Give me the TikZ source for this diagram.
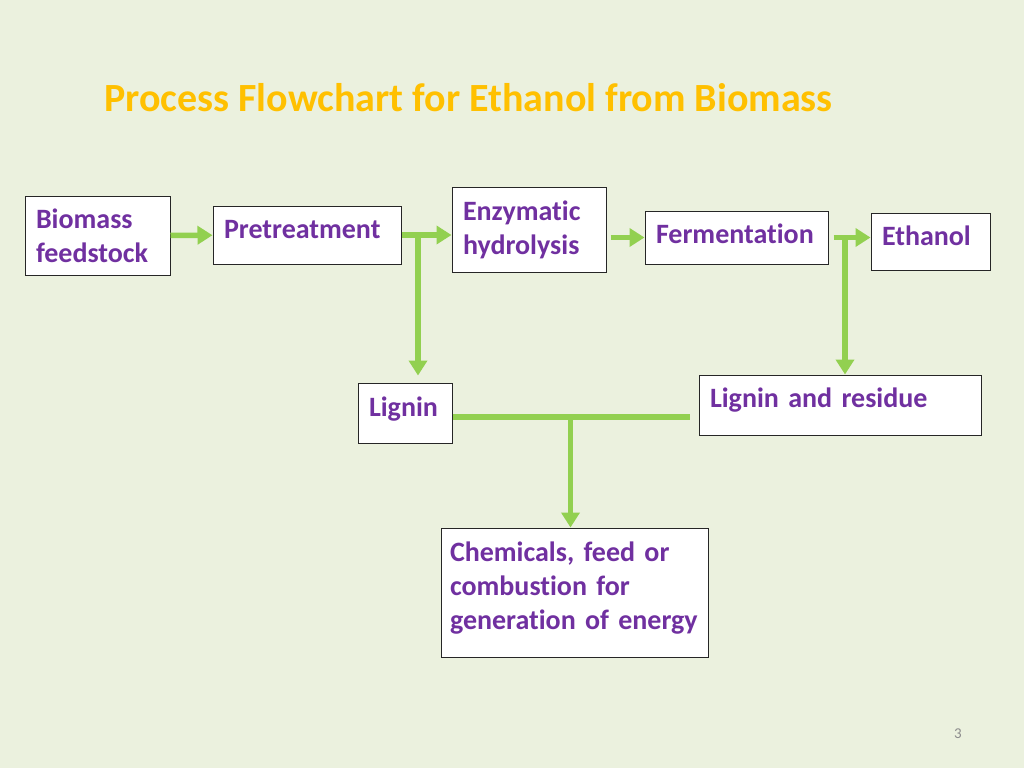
\documentclass[tikz,border=0pt]{standalone}
\usepackage{fontspec}
\usepackage{xcolor}
\usetikzlibrary{arrows.meta}
\setmainfont{Carlito}[Ligatures=NoCommon]

\definecolor{slidebg}{HTML}{EBF1DE}
\definecolor{flowgreen}{HTML}{92D050}
\definecolor{textpurple}{HTML}{7030A0}
\definecolor{titlegold}{HTML}{FFC000}

\tikzset{
  box/.style={draw=black!85, line width=1pt, fill=white, inner xsep=11pt, inner ysep=0pt,
    align=left, text=textpurple, font=\fontsize{28}{34}\selectfont\bfseries},
  oneline/.style={text height=20pt, text depth=#1},
  flow/.style={draw=flowgreen, line width=5.5pt, -{Triangle[length=15pt,width=18pt]}},
  joint/.style={draw=flowgreen, line width=5.5pt}
}

\begin{document}
\begin{tikzpicture}[x=1pt,y=-1pt]
            \fill[slidebg] (0,0) rectangle (1024,768);
            \useasboundingbox (0,0) rectangle (1024,768);
            \node (title) at (104,111) [anchor=base west, inner sep=0pt, text=titlegold, font=\fontsize{40}{44}\selectfont\bfseries] {Process Flowchart for Ethanol from Biomass};
            \node (bio) at (97.5,235.5) [box, minimum width=145, minimum height=79, text width=123] {Biomass\\feedstock};
            \node (pre) at (307,235) [box, oneline=14pt, minimum width=188, minimum height=58, text width=166] {Pretreatment};
            \node (enz) at (529,229.5) [box, minimum width=154, minimum height=85, text width=132] {Enzymatic\\hydrolysis};
            \node (fer) at (736.5,237.5) [box, oneline=9pt, minimum width=183, minimum height=53, text width=161] {Fermentation};
            \node (eth) at (930.5,241.5) [box, oneline=13pt, minimum width=119, minimum height=57, text width=97] {Ethanol};
            \node (lig) at (405,413) [box, oneline=14pt, minimum width=94, minimum height=60, text width=72] {Lignin};
            \node (rsd) at (840,405) [box, oneline=16pt, minimum width=282, minimum height=60, text width=260] {Lignin and residue};
            \node (chem) at (574.5,592.5) [box, text height=20pt, text depth=83pt, minimum width=267, minimum height=129, inner xsep=9pt, text width=249] {Chemicals, feed or\\combustion for\\generation of energy};
            \node (pg) at (958,738) [anchor=base, inner sep=0pt, text=black!45, font=\fontsize{15}{18}\selectfont] {3};
            \draw[flow] (bio) -- (pre);
            \draw[flow] (pre.east) -- (pre.east -| enz.west);
            \draw[flow, shorten >=7pt] ([xshift=13pt]lig.north |- pre.east) -- ([xshift=13pt]lig.north);
            \draw[flow, shorten <=4pt] (enz.east |- fer.west) -- (fer.west);
            \draw[flow, shorten <=5pt] (fer.east) -- (fer.east -| eth.west);
            \draw[flow] ([xshift=5pt]rsd.north |- fer.east) -- ([xshift=5pt]rsd.north);
            \draw[joint] ([yshift=-4pt]lig.east) -- ([xshift=-9pt,yshift=-4pt]rsd.west |- lig.east);
            \draw[flow] ([xshift=-4pt,yshift=-4pt]chem.north |- lig.east) -- ([xshift=-4pt]chem.north);
        \end{tikzpicture}
\end{document}
